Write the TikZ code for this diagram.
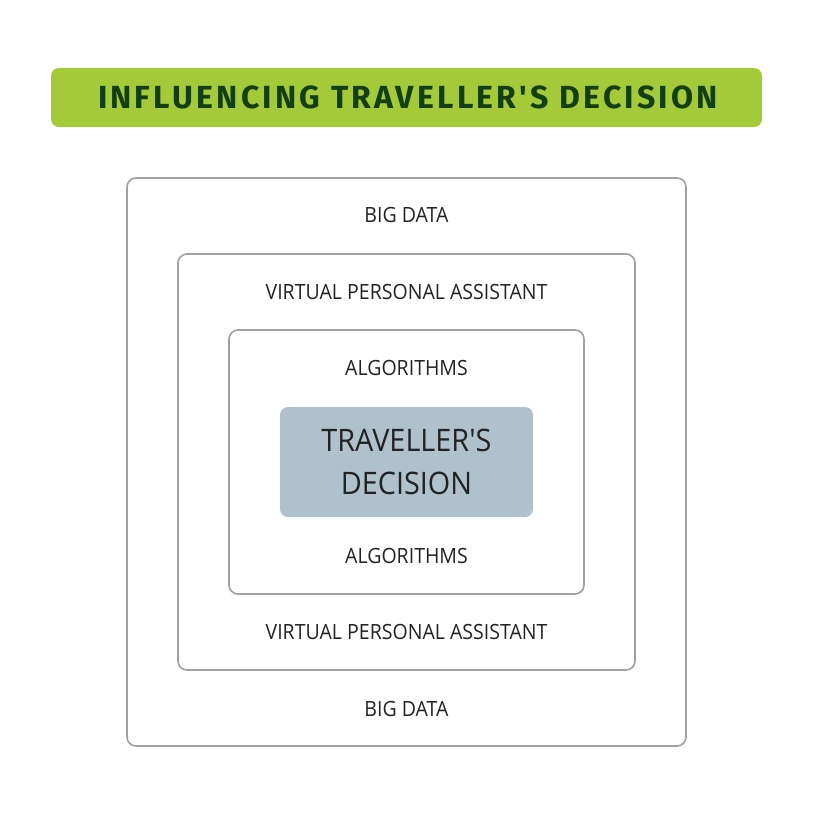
\documentclass[tikz,border=0pt]{standalone}
\usepackage{fontspec}
\setmainfont{Open Sans}[FakeStretch=0.93,Ligatures=TeXOff]
\newfontfamily\titlefont{Fira Sans}[FakeStretch=1.0,LetterSpace=10,Ligatures=TeXOff]
\definecolor{barGreen}{HTML}{A4CA3A}
\definecolor{titleGreen}{HTML}{123F14}
\definecolor{coreBlue}{HTML}{AFC1CB}
\definecolor{frameGray}{HTML}{A0A0A0}
\definecolor{inkGray}{HTML}{222222}
\tikzset{
  frame/.style={draw=frameGray,line width=1.6pt,rounded corners=9pt,inner sep=0pt},
  layer/.style={text=inkGray,font=\fontsize{21}{24}\selectfont},
}
\begin{document}
\begin{tikzpicture}[x=1pt,y=-1pt]
			\useasboundingbox (0,0) rectangle (814,814);
			\node (Ti) at (406.5,97.5) [fill=barGreen,rounded corners=8pt,minimum width=711pt,minimum height=59pt,
				text=titleGreen,font=\titlefont\bfseries\fontsize{32}{34}\selectfont] {\hspace{3pt}INFLUENCING TRAVELLER'S DECISION};
			\node (Bd) at (406.5,462) [frame,minimum width=559pt,minimum height=568pt] {};
			\node (Va) at (406.5,462) [frame,minimum width=457pt,minimum height=416pt] {};
			\node (Al) at (406.5,462) [frame,minimum width=355pt,minimum height=264pt] {};
			\node (De) at (406.5,462) [fill=coreBlue,rounded corners=8pt,minimum width=253pt,minimum height=110pt,
				text=inkGray,align=center,font=\fontsize{31}{43}\selectfont] {TRAVELLER'S\\DECISION};
			\node (BdT) at (406.5,215) [layer] {BIG DATA};
			\node (BdB) at (406.5,709) [layer] {BIG DATA};
			\node (VaT) at (406.5,292) [layer] {VIRTUAL PERSONAL ASSISTANT};
			\node (VaB) at (406.5,632) [layer] {VIRTUAL PERSONAL ASSISTANT};
			\node (AlT) at (406.5,368) [layer] {ALGORITHMS};
			\node (AlB) at (406.5,556) [layer] {ALGORITHMS};
		\end{tikzpicture}
\end{document}
